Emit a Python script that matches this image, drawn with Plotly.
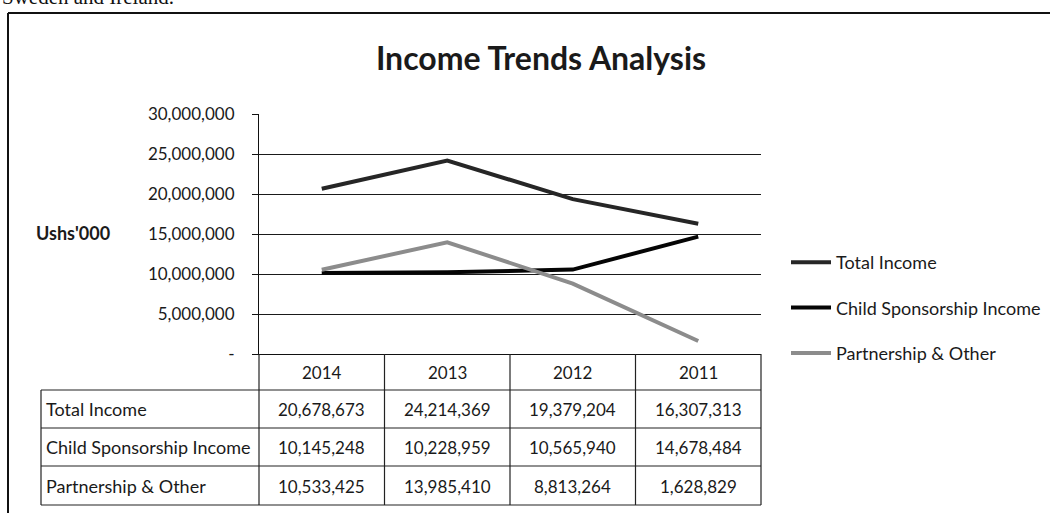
import plotly.graph_objects as go

# ---- data ----
years = ["2014", "2013", "2012", "2011"]
series_names = ["Total Income", "Child Sponsorship Income", "Partnership & Other"]
total_income = [20678673, 24214369, 19379204, 16307313]
child_sponsorship = [10145248, 10228959, 10565940, 14678484]
partnership_other = [10533425, 13985410, 8813264, 1628829]
y_tickvals = [0, 5000000, 10000000, 15000000, 20000000, 25000000, 30000000]
y_ticktext = ["-", "5,000,000", "10,000,000", "15,000,000", "20,000,000", "25,000,000", "30,000,000"]

series_values = [total_income, child_sponsorship, partnership_other]
series_colors = ["#262626", "#050505", "#8c8c8c"]

# ---- layout geometry (pixels) ----
W, H = 1050, 513
PL, PR, PT, PB = 259, 761, 114, 354   # plot area edges
FONT = "Lato"
TXT = "#1a1a1a"


def px_x(px):
    return (px - PL) / (PR - PL)


def px_y(py):
    return (PB - py) / (PB - PT)


fig = go.Figure()
for i, (name, vals, col) in enumerate(zip(series_names, series_values, series_colors)):
    fig.add_trace(go.Scatter(
        x=years, y=vals, mode="lines", name=name,
        line=dict(color=col, width=4),
        legendgroup=f"g{i}",
    ))

shapes = []
annotations = []

# outer frame (top and left edges of the scanned chart box)
shapes.append(dict(type="line", xref="paper", yref="paper",
                   x0=px_x(8), x1=px_x(W + 5), y0=px_y(13), y1=px_y(13),
                   line=dict(color="#111", width=2)))
shapes.append(dict(type="line", xref="paper", yref="paper",
                   x0=px_x(8), x1=px_x(8), y0=px_y(13), y1=px_y(H + 5),
                   line=dict(color="#111", width=2)))

# data table
row_lines = [390, 428, 466, 505]
TL = 41
for ry in row_lines:
    shapes.append(dict(type="line", xref="paper", yref="paper",
                       x0=px_x(TL), x1=1, y0=px_y(ry), y1=px_y(ry),
                       line=dict(color="#222", width=1.2)))
shapes.append(dict(type="line", xref="paper", yref="paper",
                   x0=px_x(TL), x1=px_x(TL), y0=px_y(390), y1=px_y(505),
                   line=dict(color="#222", width=1.2)))
for k in range(len(years) + 1):
    xp = k / len(years)
    shapes.append(dict(type="line", xref="paper", yref="paper",
                       x0=xp, x1=xp, y0=0, y1=px_y(505),
                       line=dict(color="#222", width=1.2)))

# header years (positioned on the category axis by index)
for i, yr in enumerate(years):
    annotations.append(dict(x=i, xref="x", y=px_y(372), yref="paper",
                            text=yr, showarrow=False, xanchor="center", yanchor="middle",
                            font=dict(family=FONT, size=17, color=TXT)))
row_centers = [409, 447, 486]
for name, vals, rc in zip(series_names, series_values, row_centers):
    annotations.append(dict(x=px_x(44), xref="paper", y=px_y(rc), yref="paper",
                            text=name, showarrow=False, xanchor="left", yanchor="middle",
                            font=dict(family=FONT, size=18, color=TXT)))
    for i, v in enumerate(vals):
        annotations.append(dict(x=i, xref="x", y=px_y(rc), yref="paper",
                                text=f"{v:,}", showarrow=False, xanchor="center", yanchor="middle",
                                font=dict(family=FONT, size=17, color=TXT)))

# y-axis title
annotations.append(dict(x=px_x(34), xref="paper", y=px_y(233), yref="paper",
                        text="<b>Ushs'000</b>", showarrow=False, xanchor="left", yanchor="middle",
                        font=dict(family=FONT, size=18, color=TXT)))

# cropped line of document text above the chart box
annotations.append(dict(x=px_x(0), xref="paper", y=px_y(11), yref="paper",
                        text="Sweden and Ireland.", showarrow=False, xanchor="left", yanchor="bottom",
                        font=dict(family="Liberation Serif", size=21, color="#111")))

fig.update_layout(
    width=W, height=H,
    margin=dict(l=PL, r=W - PR, t=PT, b=H - PB, pad=0, autoexpand=False),
    paper_bgcolor="white", plot_bgcolor="white",
    title=dict(text="<b>Income Trends Analysis</b>", x=541 / W, xanchor="center",
               y=1 - 59 / H, yanchor="middle",
               font=dict(family=FONT, size=32, color=TXT)),
    font=dict(family=FONT, size=17, color=TXT),
    showlegend=True,
    legend=dict(x=px_x(786), xanchor="left", y=px_y(244), yanchor="top",
                font=dict(family=FONT, size=18, color=TXT),
                tracegroupgap=19, bgcolor="rgba(0,0,0,0)", itemwidth=40),
    shapes=shapes,
    annotations=annotations,
)
fig.update_xaxes(type="category", categoryorder="array", categoryarray=years,
                 range=[-0.5, len(years) - 0.5], showticklabels=False,
                 showgrid=False, zeroline=False, showline=True,
                 linecolor="#111", linewidth=1.2, ticks="")
fig.update_yaxes(range=[0, 30030000], tickvals=y_tickvals, ticktext=y_ticktext,
                 showgrid=True, gridcolor="#1a1a1a", gridwidth=1.2,
                 zeroline=False, showline=True, linecolor="#111", linewidth=1.2,
                 ticks="outside", ticklen=6, tickcolor="#111", tickwidth=1.2,
                 ticklabelstandoff=14,
                 tickfont=dict(family=FONT, size=17, color=TXT))

fig.write_html("out.html")
